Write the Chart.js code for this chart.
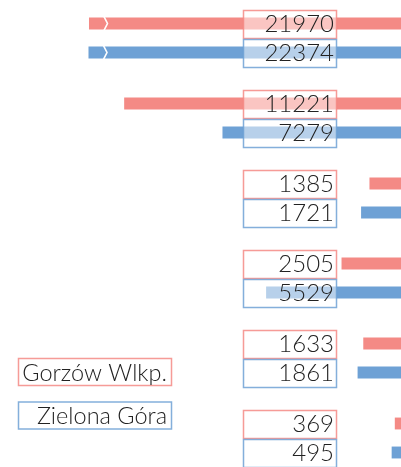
<!DOCTYPE html>
<html>
<head>
<meta charset="utf-8">
<script src="https://cdn.jsdelivr.net/npm/chart.js@4/dist/chart.umd.min.js"></script>
<style>
  html, body { margin: 0; padding: 0; background: #fff; overflow: hidden; width: 401px; height: 467px; }
  #wrap { position: absolute; left: 0; top: -2px; width: 404px; height: 480px; }
</style>
</head>
<body>
<div id="wrap"><canvas id="chart"></canvas></div>
<script>
// ================= DATA =================
const categories = ["Kat. 1", "Kat. 2", "Kat. 3", "Kat. 4", "Kat. 5", "Kat. 6"];
const seriesNames = ["Gorzów Wlkp.", "Zielona Góra"];
const gorzow = [21970, 11221, 1385, 2505, 1633, 369];
const zielona = [22374, 7279, 1721, 5529, 1861, 495];

// axis: bars growing from the right edge, long ones broken
const axisMax = 16200;
const breakAt = 12140;
const overflowRatio = 0.05;

const colors = ["#f48a85", "#6ea1d5"];
const FONT = "Lato, 'Open Sans', sans-serif";

function shown(v) {
  return v > breakAt ? breakAt + (v - breakAt) * overflowRatio : v;
}

// ================= LABEL BOXES + LEGEND =================
const boxPlugin = {
  id: "boxes",
  afterDatasetsDraw(chart) {
    const ctx = chart.ctx;
    const raw = [gorzow, zielona];
    ctx.save();
    chart.data.datasets.forEach((ds, di) => {
      const meta = chart.getDatasetMeta(di);
      meta.data.forEach((bar, i) => {
        const v = raw[di][i];
        const top = bar.y - bar.height / 2;
        // break mark on overflowing bars
        if (v > breakAt) {
          const cx = bar.x + 15;
          ctx.strokeStyle = "#fff";
          ctx.lineWidth = 1.6;
          ctx.beginPath();
          ctx.moveTo(cx, top - 1);
          ctx.lineTo(cx + 3.5, bar.y);
          ctx.lineTo(cx, top + bar.height + 1);
          ctx.stroke();
        }
        // value box
        const by = Math.round(bar.y - 14) + 0.5;
        ctx.fillStyle = "rgba(255,255,255,0.5)";
        ctx.fillRect(243.5, by, 93, 28);
        ctx.strokeStyle = colors[di];
        ctx.globalAlpha = 0.85;
        ctx.lineWidth = 1.5;
        ctx.strokeRect(243.5, by, 93, 28);
        ctx.globalAlpha = 1;
        ctx.fillStyle = "#222";
        ctx.font = "300 24px " + FONT;
        ctx.textAlign = "right";
        ctx.textBaseline = "middle";
        ctx.fillText(String(v), 334, bar.y + 1);
      });
    });

    // legend
    const legendY = [360.5, 404];
    seriesNames.forEach((name, di) => {
      const y = legendY[di];
      ctx.fillStyle = "#fff";
      ctx.fillRect(18.5, y, 153, 27);
      ctx.strokeStyle = colors[di];
      ctx.globalAlpha = 0.85;
      ctx.lineWidth = 1.5;
      ctx.strokeRect(18.5, y, 153, 27);
      ctx.globalAlpha = 1;
      ctx.fillStyle = "#222";
      ctx.font = "300 23.5px " + FONT;
      ctx.textAlign = "right";
      ctx.textBaseline = "middle";
      ctx.fillText(name, 167, y + 14.5);
    });
    ctx.restore();
  }
};

// ================= CHART =================
new Chart(document.getElementById("chart"), {
  type: "bar",
  data: {
    labels: categories,
    datasets: [
      {
        label: seriesNames[0],
        data: gorzow.map(shown),
        backgroundColor: colors[0],
        categoryPercentage: 0.725,
        barPercentage: 0.41
      },
      {
        label: seriesNames[1],
        data: zielona.map(shown),
        backgroundColor: colors[1],
        categoryPercentage: 0.725,
        barPercentage: 0.41
      }
    ]
  },
  options: {
    indexAxis: "y",
    responsive: true,
    maintainAspectRatio: false,
    animation: false,
    layout: { padding: 0 },
    plugins: {
      legend: { display: false },
      tooltip: { enabled: false }
    },
    scales: {
      x: { display: false, reverse: true, min: 0, max: axisMax },
      y: { display: false }
    }
  },
  plugins: [boxPlugin]
});
</script>
</body>
</html>
